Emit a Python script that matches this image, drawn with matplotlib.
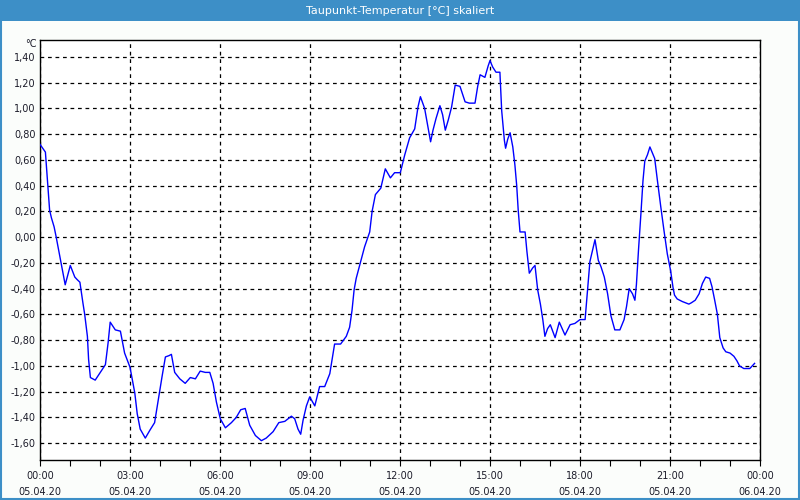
import matplotlib
matplotlib.use('Agg')
import matplotlib.pyplot as plt
from matplotlib.patches import Rectangle
from matplotlib.ticker import FixedLocator, FuncFormatter, MultipleLocator

# Dew point readings for 05.04.20 (hour of day, degC scaled)
hours = [
    0.00, 0.18, 0.32, 0.38, 0.47, 0.54, 0.62, 0.71, 0.84, 1.01, 1.16, 1.24, 1.33,
    1.43, 1.49, 1.58, 1.62, 1.68, 1.84, 2.04, 2.18, 2.27, 2.34, 2.51, 2.68, 2.82,
    3.00, 3.16, 3.24, 3.34, 3.51, 3.66, 3.82, 3.93, 4.07, 4.18, 4.30, 4.38, 4.49,
    4.66, 4.84, 5.01, 5.18, 5.34, 5.51, 5.66, 5.77, 5.88, 6.01, 6.18, 6.38, 6.54,
    6.69, 6.84, 6.99, 7.18, 7.38, 7.54, 7.77, 7.96, 8.16, 8.38, 8.49, 8.60, 8.69,
    8.77, 8.88, 8.99, 9.16, 9.32, 9.49, 9.66, 9.82, 10.02, 10.21, 10.32, 10.40,
    10.47, 10.54, 10.69, 10.82, 10.99, 11.07, 11.18, 11.36, 11.51, 11.68, 11.82,
    12.01, 12.16, 12.32, 12.49, 12.60, 12.68, 12.82, 13.02, 13.10, 13.20, 13.33,
    13.42, 13.51, 13.61, 13.72, 13.84, 14.00, 14.17, 14.31, 14.50, 14.59, 14.67,
    14.83, 14.94, 15.00, 15.09, 15.20, 15.33, 15.39, 15.48, 15.52, 15.59, 15.67,
    15.76, 15.83, 15.89, 15.94, 16.00, 16.17, 16.23, 16.31, 16.42, 16.50, 16.59,
    16.68, 16.76, 16.83, 16.92, 17.01, 17.17, 17.31, 17.50, 17.67, 17.83, 18.00,
    18.17, 18.25, 18.33, 18.42, 18.50, 18.61, 18.70, 18.81, 18.92, 19.03, 19.16,
    19.33, 19.47, 19.55, 19.64, 19.75, 19.83, 19.88, 19.95, 20.03, 20.10, 20.16,
    20.25, 20.33, 20.42, 20.49, 20.58, 20.69, 20.80, 20.91, 21.02, 21.10, 21.15,
    21.24, 21.41, 21.63, 21.71, 21.84, 21.97, 22.08, 22.19, 22.32, 22.40, 22.49,
    22.58, 22.66, 22.77, 22.86, 23.00, 23.13, 23.23, 23.32, 23.46, 23.66, 23.82,
]
dewpoint = [
    0.72, 0.66, 0.21, 0.15, 0.08, 0.00, -0.10, -0.21, -0.37, -0.22, -0.31, -0.33, -0.35,
    -0.51, -0.60, -0.77, -0.95, -1.09, -1.11, -1.04, -0.99, -0.82, -0.66, -0.72, -0.73, -0.90,
    -1.01, -1.21, -1.37, -1.49, -1.56, -1.50, -1.44, -1.28, -1.08, -0.93, -0.92, -0.91, -1.05,
    -1.10, -1.135, -1.09, -1.10, -1.04, -1.05, -1.05, -1.135, -1.28, -1.41, -1.48, -1.44, -1.40,
    -1.34, -1.33, -1.46, -1.54, -1.58, -1.56, -1.51, -1.44, -1.43, -1.39, -1.41, -1.49, -1.53,
    -1.42, -1.31, -1.24, -1.31, -1.16, -1.16, -1.06, -0.83, -0.83, -0.77, -0.70, -0.57,
    -0.41, -0.32, -0.19, -0.075, 0.04, 0.20, 0.33, 0.38, 0.53, 0.46, 0.50,
    0.50, 0.64, 0.77, 0.84, 1.01, 1.09, 1.00, 0.74, 0.83, 0.92, 1.02,
    0.95, 0.83, 0.91, 1.01, 1.18, 1.17, 1.05, 1.04, 1.04, 1.17, 1.26,
    1.24, 1.33, 1.37, 1.32, 1.28, 1.28, 0.98, 0.75, 0.69, 0.76, 0.81,
    0.70, 0.56, 0.40, 0.21, 0.04, 0.04, -0.11, -0.28, -0.24, -0.22, -0.41,
    -0.52, -0.64, -0.77, -0.71, -0.68, -0.78, -0.66, -0.76, -0.68, -0.67, -0.64,
    -0.64, -0.41, -0.19, -0.10, -0.02, -0.18, -0.23, -0.31, -0.44, -0.61, -0.72,
    -0.72, -0.64, -0.54, -0.40, -0.44, -0.49, -0.37, -0.10, 0.18, 0.44, 0.59,
    0.64, 0.70, 0.65, 0.61, 0.44, 0.24, 0.05, -0.13, -0.26, -0.39, -0.45,
    -0.48, -0.50, -0.52, -0.51, -0.49, -0.44, -0.36, -0.31, -0.32, -0.385, -0.49,
    -0.60, -0.78, -0.86, -0.89, -0.90, -0.925, -0.96, -1.00, -1.02, -1.02, -0.98,
]
x_ticks = [0, 3, 6, 9, 12, 15, 18, 21, 24]
x_labels = ['00:00\n05.04.20', '03:00\n05.04.20', '06:00\n05.04.20', '09:00\n05.04.20',
            '12:00\n05.04.20', '15:00\n05.04.20', '18:00\n05.04.20', '21:00\n05.04.20',
            '00:00\n06.04.20']
y_ticks = [1.4, 1.2, 1.0, 0.8, 0.6, 0.4, 0.2, 0.0, -0.2, -0.4, -0.6, -0.8, -1.0, -1.2, -1.4, -1.6]

bar_blue = '#3d8fc7'
text_col = '#1c1c2a'

fig = plt.figure(figsize=(8, 5), dpi=100, facecolor='#fbfdfb')

# Title bar and window frame
fig.patches.append(Rectangle((0, 0.958), 1, 0.042, transform=fig.transFigure,
                             facecolor=bar_blue, edgecolor='none', zorder=0))
fig.patches.append(Rectangle((0.001, 0.002), 0.998, 0.997, transform=fig.transFigure,
                             facecolor='none', edgecolor=bar_blue, linewidth=1.5, zorder=5))
fig.text(0.5, 0.979, 'Taupunkt-Temperatur [°C] skaliert', ha='center', va='center',
         color='white', fontsize=8)

ax = fig.add_axes([0.05, 0.08, 0.90, 0.84])
ax.set_facecolor('white')
ax.plot(hours, dewpoint, color='#0000ff', linewidth=1.0, zorder=3)

ax.set_xlim(0, 24)
ax.set_ylim(-1.73, 1.53)

ax.xaxis.set_major_locator(FixedLocator(x_ticks))
ax.set_xticklabels(x_labels)
ax.xaxis.set_minor_locator(MultipleLocator(1))
ax.yaxis.set_major_locator(FixedLocator(y_ticks))
ax.yaxis.set_major_formatter(FuncFormatter(lambda v, p: f'{v:.2f}'.replace('.', ',').replace('-0,00', '0,00')))

ax.grid(True, which='major', color='black', linestyle=(0, (3, 3)), linewidth=0.9)
ax.tick_params(axis='x', which='both', direction='out', length=4, width=0.8,
               colors='black', labelcolor=text_col, labelsize=7, pad=4)
ax.tick_params(axis='y', which='major', length=0, labelcolor=text_col, labelsize=7, pad=3)
for lbl in ax.get_xticklabels():
    lbl.set_linespacing(1.75)

for s in ax.spines.values():
    s.set_color('black')
    s.set_linewidth(1.0)

fig.text(0.046, 0.912, '°C', ha='right', va='center', color=text_col, fontsize=7)

plt.savefig('out.png', dpi=100, facecolor=fig.get_facecolor())
plt.close()
